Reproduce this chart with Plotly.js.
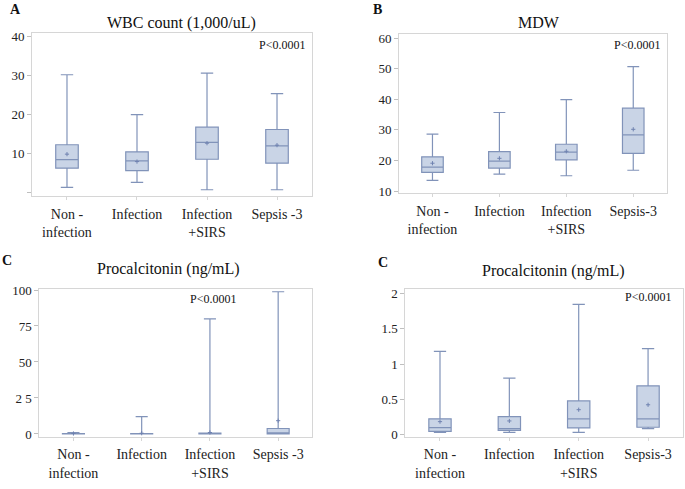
<!DOCTYPE html>
<html><head><meta charset="utf-8">
<script src="https://cdn.plot.ly/plotly-3.0.1.min.js"></script>
<style>html,body{margin:0;padding:0;background:#fff}#chart{width:685px;height:489px}</style>
</head><body><div id="chart"></div>
<script>
const categories = ['Non-infection', 'Infection', 'Infection+SIRS', 'Sepsis-3'];
const labelsA = ['Non -<br>infection', 'Infection', 'Infection<br>+SIRS', 'Sepsis -3'];
const labelsB = ['Non -<br>infection', 'Infection', 'Infection<br>+SIRS', 'Sepsis-3'];
const labelsC = ['Non -<br>infection', 'Infection', 'Infection<br>+SIRS', 'Sepsis -3'];
const labelsD = ['Non -<br>infection', 'Infection', 'Infection<br>+SIRS', 'Sepsis-3'];

// A: WBC count (1,000/uL)
const wbcLow  = [1.3, 2.6, 0.7, 0.7];
const wbcQ1   = [6.2, 5.6, 8.5, 7.5];
const wbcMed  = [8.4, 8.1, 12.8, 11.9];
const wbcQ3   = [12.2, 10.4, 16.7, 16.1];
const wbcHigh = [30.1, 19.9, 30.5, 25.3];
const wbcMean = [9.8, 7.9, 12.6, 12.1];
const wbcTicks = [0, 10, 20, 30, 40];
const wbcTickText = ['', '10', '20', '30', '40'];

// B: MDW
const mdwLow  = [13.5, 15.5, 15.0, 16.8];
const mdwQ1   = [16.1, 17.5, 20.2, 22.3];
const mdwMed  = [17.8, 19.8, 22.7, 28.4];
const mdwQ3   = [21.2, 22.9, 25.3, 37.1];
const mdwHigh = [28.6, 35.7, 39.9, 50.7];
const mdwMean = [19.1, 20.7, 23.0, 30.2];
const mdwTicks = [10, 20, 30, 40, 50, 60];
const mdwTickText = ['10', '20', '30', '40', '50', '60'];

// C (left): Procalcitonin (ng/mL), full range
const pctLow  = [0.02, 0.03, 0.03, 0.08];
const pctQ1   = [0.04, 0.06, 0.09, 0.10];
const pctMed  = [0.09, 0.08, 0.22, 0.22];
const pctQ3   = [0.3, 0.3, 0.6, 3.8];
const pctHigh = [1.0, 12.0, 80.0, 98.8];
const pctMean = [0.3, 0.5, 1.0, 9.2];
const pctTicks = [0, 25, 50, 75, 100];
const pctTickText = ['0', '2 5', '50', '75', '100'];

// C (right): Procalcitonin (ng/mL), 0-2 range
const pczLow  = [0.028, 0.028, 0.028, 0.08];
const pczQ1   = [0.042, 0.056, 0.09, 0.10];
const pczMed  = [0.094, 0.08, 0.22, 0.22];
const pczQ3   = [0.22, 0.25, 0.475, 0.69];
const pczHigh = [1.18, 0.80, 1.85, 1.22];
const pczMean = [0.18, 0.19, 0.35, 0.42];
const pczTicks = [0, 0.5, 1, 1.5, 2];
const pczTickText = ['0', '0.5', '1', '1.5', '2'];

const FONT = '"Liberation Serif", "Times New Roman", Times, serif';
const FILL = '#c9d4e6';
const LINE = '#8193b9';
const MEAN = '#6f82b0';

function boxTrace(xa, ya, lo, q1, med, q3, hi) {
  return {
    type: 'box', xaxis: xa, yaxis: ya, x: categories,
    lowerfence: lo, q1: q1, median: med, q3: q3, upperfence: hi,
    fillcolor: FILL, line: {color: LINE, width: 1.2},
    whiskerwidth: 0.55, boxpoints: false, showlegend: false, hoverinfo: 'skip'
  };
}
function meanTrace(xa, ya, m) {
  return {
    type: 'scatter', mode: 'markers', xaxis: xa, yaxis: ya, x: categories, y: m,
    marker: {symbol: 'cross-thin', size: 3, line: {color: MEAN, width: 1}},
    showlegend: false, hoverinfo: 'skip'
  };
}

const data = [
  boxTrace('x', 'y', wbcLow, wbcQ1, wbcMed, wbcQ3, wbcHigh), meanTrace('x', 'y', wbcMean),
  boxTrace('x2', 'y2', mdwLow, mdwQ1, mdwMed, mdwQ3, mdwHigh), meanTrace('x2', 'y2', mdwMean),
  boxTrace('x3', 'y3', pctLow, pctQ1, pctMed, pctQ3, pctHigh), meanTrace('x3', 'y3', pctMean),
  boxTrace('x4', 'y4', pczLow, pczQ1, pczMed, pczQ3, pczHigh), meanTrace('x4', 'y4', pczMean)
];

function xax(domain, anchor, labels) {
  return {
    domain: domain, anchor: anchor, type: 'category', range: [-0.5, 3.5],
    tickmode: 'array', tickvals: categories, ticktext: labels,
    showline: true, mirror: true, linecolor: '#d6d6d6', linewidth: 1,
    ticks: 'outside', ticklen: 3, tickcolor: '#d6d6d6', showgrid: false, zeroline: false,
    ticklabelstandoff: 2,
    tickfont: {family: FONT, size: 14, color: '#222'}, fixedrange: true
  };
}
function yax(domain, anchor, range, tv, tt) {
  return {
    domain: domain, anchor: anchor, range: range,
    tickmode: 'array', tickvals: tv, ticktext: tt,
    showline: true, mirror: true, linecolor: '#d6d6d6', linewidth: 1,
    ticks: 'outside', ticklen: 4, tickcolor: '#bfbfbf', showgrid: false, zeroline: false,
    tickfont: {family: FONT, size: 13, color: '#222'}, fixedrange: true
  };
}

function ann(text, x, y, size, opts) {
  return Object.assign({
    text: text, xref: 'paper', yref: 'paper', x: x / 685, y: 1 - y / 489,
    xanchor: 'center', yanchor: 'middle', showarrow: false,
    font: {family: FONT, size: size, color: '#111'}
  }, opts || {});
}

const layout = {
  width: 685, height: 489, margin: {l: 0, r: 0, t: 0, b: 0},
  paper_bgcolor: '#fff', plot_bgcolor: '#fff',
  font: {family: FONT},
  boxgap: 0.54,
  xaxis: xax([0.0467, 0.4555], 'y', labelsA),
  yaxis: yax([0.5992, 0.9319], 'x', [-0.9, 40.7], wbcTicks, wbcTickText),
  xaxis2: xax([0.5825, 0.9733], 'y2', labelsB),
  yaxis2: yax([0.6047, 0.9299], 'x2', [9.25, 61.3], mdwTicks, mdwTickText),
  xaxis3: xax([0.0574, 0.4559], 'y3', labelsC),
  yaxis3: yax([0.1070, 0.4096], 'x3', [-1.9, 100.9], pctTicks, pctTickText),
  xaxis4: xax([0.5917, 0.9967], 'y4', labelsD),
  yaxis4: yax([0.1070, 0.4084], 'x4', [-0.034, 2.064], pczTicks, pczTickText),
  annotations: [
    ann('<b>A</b>', 15.5, 9, 14),
    ann('<b>B</b>', 377, 9, 14),
    ann('<b>C</b>', 7, 260, 14),
    ann('<b>C</b>', 383, 262.5, 14),
    ann('WBC count (1,000/uL)', 181.7, 22.7, 16),
    ann('MDW', 539, 22.7, 16),
    ann('Procalcitonin (ng/mL)', 168.3, 269.3, 16),
    ann('Procalcitonin (ng/mL)', 553.8, 270.7, 16),
    ann('P&lt;0.0001', 307.3, 45, 12, {xanchor: 'right'}),
    ann('P&lt;0.0001', 661.7, 45, 12, {xanchor: 'right'}),
    ann('P&lt;0.0001', 213.3, 299, 12),
    ann('P&lt;0.0001', 673.3, 296.7, 12, {xanchor: 'right'})
  ]
};

Plotly.newPlot('chart', data, layout, {displayModeBar: false, staticPlot: true});
</script>
</body></html>
